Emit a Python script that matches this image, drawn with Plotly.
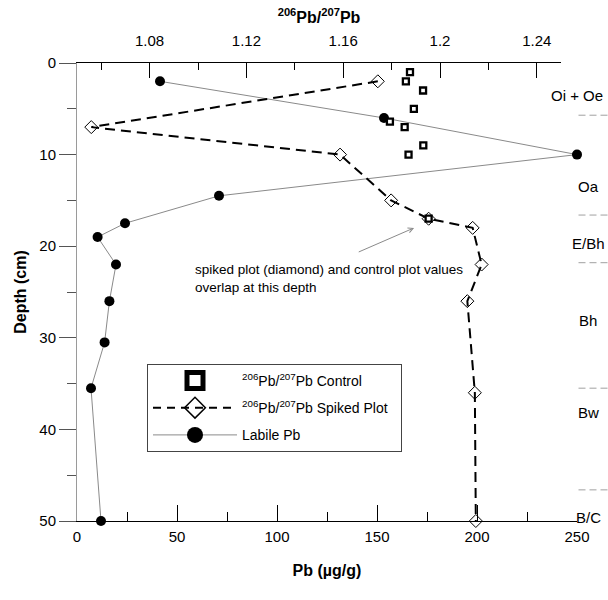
import plotly.graph_objects as go

# ---------------- data ----------------
labile_depth = [2, 6, 10, 14.5, 17.5, 19, 22, 26, 30.5, 35.5, 50]
labile_pb = [41.5, 153.5, 250, 71, 24, 10.3, 19.5, 16.2, 13.8, 7, 12]

spiked_depth = [2, 7, 10, 15, 17, 18, 22, 26, 36, 50]
spiked_ratio = [1.1743, 1.0559, 1.1587, 1.1798, 1.1953, 1.2135, 1.2172, 1.2113, 1.2144, 1.2148]

control_depth = [1, 2, 3, 5, 6.4, 7, 9, 10, 17]
control_ratio = [1.1876, 1.1859, 1.1930, 1.1892, 1.1793, 1.1854, 1.1931, 1.1870, 1.1953]

horizon_names = ["Oi + Oe", "Oa", "E/Bh", "Bh", "Bw", "B/C"]
horizon_label_depth = [3.5, 13.5, 19.7, 28.1, 38.1, 49.6]
horizon_boundaries = [5.7, 16.6, 21.8, 35.5, 46.6]

depth_ticks = [0, 10, 20, 30, 40, 50]
depth_minor = [5, 15, 25, 35, 45]
pb_ticks = [0, 50, 100, 150, 200, 250]
pb_minor = [25, 75, 125, 175, 225]
ratio_ticks = [1.08, 1.12, 1.16, 1.20, 1.24]
ratio_ticktext = ["1.08", "1.12", "1.16", "1.2", "1.24"]
ratio_minor = [1.06, 1.10, 1.14, 1.18, 1.22]

note_text = "spiked plot (diamond) and control plot values<br>overlap at this depth"

FONT = "Arial, Liberation Sans, sans-serif"

fig = go.Figure()

# Labile Pb (bottom axis)
fig.add_trace(go.Scatter(
    x=labile_pb, y=labile_depth, xaxis="x", yaxis="y", mode="lines+markers",
    line=dict(color="#8a8a8a", width=1),
    marker=dict(symbol="circle", size=10, color="black"),
    showlegend=False, cliponaxis=False))

# Spiked plot (top axis)
fig.add_trace(go.Scatter(
    x=spiked_ratio, y=spiked_depth, xaxis="x2", yaxis="y", mode="lines+markers",
    line=dict(color="black", width=2, dash="10px,6px"),
    marker=dict(symbol="diamond-open", size=10, color="black", line=dict(width=1)),
    showlegend=False, cliponaxis=False))

# Control (top axis)
fig.add_trace(go.Scatter(
    x=control_ratio, y=control_depth, xaxis="x2", yaxis="y", mode="markers",
    marker=dict(symbol="square", size=6, color="white", line=dict(color="black", width=2.3)),
    showlegend=False, cliponaxis=False))

# legend entries
fig.add_trace(go.Scatter(
    x=[None], y=[None], xaxis="x2", yaxis="y", mode="markers", legendgroup="a",
    name="<sup>206</sup>Pb/<sup>207</sup>Pb Control",
    marker=dict(symbol="square", size=16, color="white", line=dict(color="black", width=5))))
fig.add_trace(go.Scatter(
    x=[None], y=[None], xaxis="x2", yaxis="y", mode="lines+markers", legendgroup="b",
    name="<sup>206</sup>Pb/<sup>207</sup>Pb Spiked Plot\u00a0\u00a0",
    line=dict(color="black", width=2, dash="8px,6px"),
    marker=dict(symbol="diamond-open", size=16, color="black", line=dict(width=1.5))))
fig.add_trace(go.Scatter(
    x=[None], y=[None], xaxis="x", yaxis="y", mode="lines+markers", legendgroup="c",
    name="Labile Pb",
    line=dict(color="#8a8a8a", width=1),
    marker=dict(symbol="circle", size=16, color="black")))

# horizon boundaries and labels
shapes = []
for d in horizon_boundaries:
    shapes.append(dict(type="line", xref="paper", yref="y", x0=1.003, x1=1.062, y0=d, y1=d,
                       line=dict(color="#a0a0a0", width=1, dash="7px,4px")))
annotations = []
for i, (name, d) in enumerate(zip(horizon_names, horizon_label_depth)):
    if i == 0:
        annotations.append(dict(text=name, xref="paper", yref="y", x=1.056, y=d,
                                xanchor="right", yanchor="middle", showarrow=False,
                                font=dict(family=FONT, size=15, color="black")))
    else:
        annotations.append(dict(text=name, xref="paper", yref="y", x=1.022, y=d,
                                xanchor="center", yanchor="middle", showarrow=False,
                                font=dict(family=FONT, size=15, color="black")))

# note text + arrow
annotations.append(dict(text=note_text, xref="paper", yref="y", x=0.232, y=23.5,
                        xanchor="left", yanchor="middle", align="left", showarrow=False,
                        font=dict(family=FONT, size=13.5, color="black")))
annotations.append(dict(text="", xref="x2", yref="y", x=1.1893, y=18.0,
                        axref="x2", ayref="y", ax=1.1658, ay=20.7,
                        showarrow=True, arrowhead=5, arrowsize=1, arrowwidth=1,
                        arrowcolor="#8a8a8a"))

fig.update_layout(
    width=608, height=600,
    margin=dict(l=77, r=31, t=63, b=79),
    paper_bgcolor="white", plot_bgcolor="rgba(0,0,0,0)",
    font=dict(family=FONT, size=15, color="black"),
    showlegend=True,
    legend=dict(x=0.14, y=0.343, xanchor="left", yanchor="top",
                bgcolor="white", bordercolor="#444", borderwidth=1,
                font=dict(family=FONT, size=14, color="black"),
                itemwidth=84, traceorder="grouped", tracegroupgap=6),
    xaxis=dict(domain=[0, 1], range=[0, 250], anchor="y", side="bottom",
               tickvals=pb_ticks, ticks="inside", ticklen=16, tickcolor="black",
               showline=True, linecolor="black", linewidth=1, showgrid=False, zeroline=False,
               minor=dict(tickvals=pb_minor, ticks="inside", ticklen=9, tickcolor="black"),
               ticklabelstandoff=2, automargin=False,
               title=dict(text="<b>Pb (\u00b5g/g)</b>", font=dict(size=16), standoff=20)),
    xaxis2=dict(domain=[0, 0.968], range=[1.05, 1.25], anchor="y", side="top",
                tickvals=ratio_ticks, ticktext=ratio_ticktext, ticks="inside", ticklen=15,
                tickcolor="black", showline=True, linecolor="black", linewidth=1,
                showgrid=False, zeroline=False,
                minor=dict(tickvals=ratio_minor, ticks="inside", ticklen=7, tickcolor="black"),
                ticklabelstandoff=10,
                title=dict(text="<b><sup>206</sup>Pb/<sup>207</sup>Pb</b>", font=dict(size=16), standoff=4)),
    yaxis=dict(domain=[0, 1], range=[50, 0], anchor="x",
               tickvals=depth_ticks, ticks="outside", ticklen=17, tickcolor="#555",
               showline=True, linecolor="#9a9a9a", linewidth=1, showgrid=False, zeroline=False,
               minor=dict(tickvals=depth_minor, ticks="outside", ticklen=9, tickcolor="#555"),
               title=dict(text="<b>Depth (cm)</b>", font=dict(size=16), standoff=8)),
    shapes=shapes,
    annotations=annotations,
)

fig.write_html("out.html")
